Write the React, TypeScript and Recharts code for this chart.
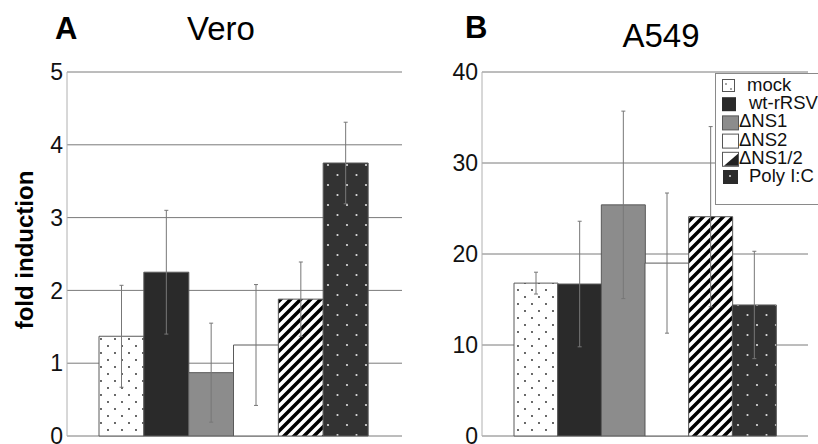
import { BarChart, Bar, Cell, XAxis, YAxis, CartesianGrid, ErrorBar } from "recharts";

const groups = ["mock", "wt-rRSV", "ΔNS1", "ΔNS2", "ΔNS1/2", "Poly I:C"];
const veroMean = [1.37, 2.25, 0.87, 1.25, 1.88, 3.75];
const veroErr = [0.7, 0.85, 0.68, 0.83, 0.51, 0.56];
const a549Mean = [16.8, 16.7, 25.4, 19.0, 24.1, 14.4];
const a549Err = [1.2, 6.9, 10.3, 7.7, 9.9, 5.9];
const veroTicks = [0, 1, 2, 3, 4, 5];
const a549Ticks = [0, 10, 20, 30, 40];

const FONT = "'Liberation Sans', Arial, sans-serif";

const fillFor = (prefix: string, i: number) =>
  [
    `url(#${prefix}-mock)`,
    "#2a2a2a",
    "#8c8c8c",
    "#ffffff",
    `url(#${prefix}-stripes)`,
    `url(#${prefix}-poly)`,
  ][i];

const Patterns = ({ prefix }: { prefix: string }) => (
  <defs>
    <pattern id={`${prefix}-mock`} width={14} height={14} patternUnits="userSpaceOnUse">
      <rect width={14} height={14} fill="#ffffff" />
      <circle cx={3} cy={3} r={0.9} fill="#222" />
      <circle cx={10} cy={10} r={0.9} fill="#222" />
    </pattern>
    <pattern id={`${prefix}-poly`} width={19} height={20} patternUnits="userSpaceOnUse">
      <rect width={19} height={20} fill="#333333" />
      <circle cx={5} cy={5} r={1.1} fill="#dddddd" />
      <circle cx={14.5} cy={15} r={1.1} fill="#dddddd" />
    </pattern>
    <pattern id={`${prefix}-stripes`} width={10} height={10} patternUnits="userSpaceOnUse">
      <rect width={10} height={10} fill="#ffffff" />
      <path
        d="M-2.5,2.5 L2.5,-2.5 M0,10 L10,0 M7.5,12.5 L12.5,7.5"
        stroke="#000"
        strokeWidth={3.5}
      />
    </pattern>
  </defs>
);

type PanelProps = {
  prefix: string;
  mean: number[];
  err: number[];
  ticks: number[];
  width: number;
  yWidth: number;
  right: number;
  pad: { left: number; right: number };
};

function Panel({ prefix, mean, err, ticks, width, yWidth, right, pad }: PanelProps) {
  const data = groups.map((g, i) => ({ name: g, value: mean[i], err: err[i] }));
  return (
    <BarChart
      width={width}
      height={444}
      data={data}
      margin={{ top: 72, right, bottom: 8, left: 0 }}
      barCategoryGap={0}
    >
      <Patterns prefix={prefix} />
      <CartesianGrid vertical={false} stroke="#7a7a7a" />
      <XAxis dataKey="name" hide padding={pad} />
      <YAxis
        width={yWidth}
        domain={[0, ticks[ticks.length - 1]]}
        ticks={ticks}
        interval={0}
        tickSize={0}
        tickMargin={4}
        tickLine={false}
        axisLine={{ stroke: "#b0b0b0" }}
        tick={{ fontSize: 23, fill: "#111", fontFamily: FONT }}
      />
      <Bar dataKey="value" isAnimationActive={false} stroke="#5a5a5a" strokeWidth={1}>
        {data.map((d, i) => (
          <Cell key={d.name} fill={fillFor(prefix, i)} />
        ))}
        <ErrorBar
          dataKey="err"
          width={2}
          stroke="#777"
          strokeWidth={1}
          direction="y"
          isAnimationActive={false}
        />
      </Bar>
    </BarChart>
  );
}

const legendBase = 91;
const legendStep = 18.2;
const legendTextX = [747, 749, 739, 739, 739, 749];

const LegendIcon = ({ i, y }: { i: number; y: number }) => {
  const x = 722;
  const s = 14;
  if (i === 0)
    return (
      <g>
        <rect x={x + 0.5} y={y + 0.5} width={s - 2} height={s - 2} fill="#fff" stroke="#555" />
        <circle cx={x + 4} cy={y + 5} r={0.8} fill="#333" />
        <circle cx={x + 9} cy={y + 10} r={0.8} fill="#333" />
      </g>
    );
  if (i === 1) return <rect x={x} y={y} width={s} height={s} fill="#2a2a2a" />;
  if (i === 2)
    return <rect x={x + 0.5} y={y + 0.5} width={s + 2} height={s} fill="#8c8c8c" stroke="#555" />;
  if (i === 3)
    return <rect x={x + 0.5} y={y + 0.5} width={s + 2} height={s} fill="#fff" stroke="#555" />;
  if (i === 4)
    return (
      <g>
        <rect x={x + 0.5} y={y + 0.5} width={s + 2} height={s} fill="#fff" stroke="#555" />
        <path d={`M${x + 2},${y + s} L${x + s + 2},${y + 2} L${x + s + 2},${y + s} Z`} fill="#222" />
      </g>
    );
  return (
    <g>
      <rect x={x + 1} y={y} width={s + 1} height={s} fill="#2a2a2a" />
      <circle cx={x + 8} cy={y + 6} r={1} fill="#ddd" />
    </g>
  );
};

export default function App() {
  return (
    <div
      style={{ position: "relative", width: 818, height: 444, background: "#fff", overflow: "hidden" }}
    >
      <style>{`body{margin:0}`}</style>
      <div style={{ position: "absolute", left: 0, top: 0 }}>
        <Panel
          prefix="vero"
          mean={veroMean}
          err={veroErr}
          ticks={veroTicks}
          width={410}
          yWidth={67}
          right={8}
          pad={{ left: 32, right: 34 }}
        />
      </div>
      <div style={{ position: "absolute", left: 410, top: 0 }}>
        <Panel
          prefix="a549"
          mean={a549Mean}
          err={a549Err}
          ticks={a549Ticks}
          width={408}
          yWidth={72}
          right={10}
          pad={{ left: 32, right: 32 }}
        />
      </div>
      <svg
        width={818}
        height={444}
        style={{ position: "absolute", left: 0, top: 0, pointerEvents: "none" }}
        fontFamily={FONT}
      >
        <text x={55} y={39} fontSize={31} fontWeight="bold" fill="#000">A</text>
        <text x={221} y={40} fontSize={33} textAnchor="middle" fill="#000">Vero</text>
        <text x={465} y={38} fontSize={31} fontWeight="bold" fill="#000">B</text>
        <text x={661} y={47} fontSize={33} textAnchor="middle" fill="#000">A549</text>
        <text
          transform="translate(33,250) rotate(-90)"
          fontSize={24}
          fontWeight="bold"
          textAnchor="middle"
          fill="#000"
        >
          fold induction
        </text>
        <rect x={715.5} y={73.5} width={120} height={131} fill="#fff" stroke="#8a8a8a" />
        {groups.map((g, i) => {
          const base = legendBase + i * legendStep;
          return (
            <g key={g}>
              <LegendIcon i={i} y={base - 12} />
              <text x={legendTextX[i]} y={base} fontSize={18.5} fill="#111">
                {g}
              </text>
            </g>
          );
        })}
      </svg>
    </div>
  );
}
